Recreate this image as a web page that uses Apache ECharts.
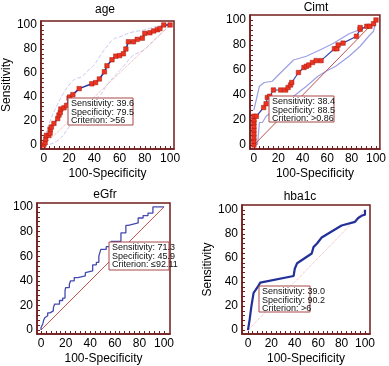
<!DOCTYPE html>
<html><head><meta charset="utf-8">
<script src="https://cdn.jsdelivr.net/npm/echarts@6/dist/echarts.min.js"></script>
<style>html,body{margin:0;padding:0;background:#fff}#c{width:389px;height:366px}</style>
</head><body><div id="c"></div>
<script>
// ---- data ----
const titles = ['age', 'Cimt', 'eGfr', 'hba1c'];
const tickLabels = [0, 20, 40, 60, 80, 100];
const diagonal = [[0, 0], [100, 100]];

const ageRoc = [[0,0],[1,2],[1.5,5],[2,8],[4,8],[5,10],[5,13],[6,15],[8,18],[11,22],[12,25],[13,27],[13.5,30],[16,31],[18,33],[20,39],[20.5,40],[23,42],[28,47],[38,51],[41,52],[44,55],[48,61],[50,66],[54,71],[57,74],[60,74.5],[63,76],[65,80],[67,86],[71,86],[74,88],[78,89],[80,93],[84,93.5],[87,95],[90,96],[92,97],[95,100],[100,100]];
const ageUpper = [[0,4],[5,20],[10,32],[15,42],[20,50],[25,55],[30,57],[35,62],[40,67],[45,75],[50,82],[55,88],[60,90],[70,94],[80,96],[90,99],[100,100]];
const ageLower = [[0,0],[10,3],[20,15],[30,30],[40,38],[45,42],[50,50],[60,62],[65,68],[70,74],[80,80],[90,90],[100,100]];

const cimtRoc = [[0,0],[0,3],[0,6],[0,9],[0,12],[0,15],[0,18],[0,20],[0,23],[2,23],[8,30],[10,33],[11,38],[13,39],[16,44],[22,44],[26,44],[28,46],[30,48],[31,50],[36.5,58],[41,62],[43,63],[45,64],[48,66],[51,67.5],[55,67.5],[66,77],[68,77],[69,80],[73,81.5],[84,87],[87,92.5],[87,94],[92.5,95],[95,95],[98,97],[100,100]];
const cimtUpper = [[0,28],[4.5,47],[8.5,50],[15,51],[19,55],[32.5,68],[43,71],[54,76],[64.5,81],[78,89],[88.5,93],[96.5,96],[100,100]];
const cimtLower = [[0,0],[3,0.5],[4.5,18],[7,18],[10,23],[14,26],[22,31],[32.5,39],[43,47],[52.5,55],[59,59],[67,63],[78,71],[87,79],[94,87],[98,91],[100,100]];

const egfrRoc = [[0,0],[1.4,2],[2,5],[3,7.5],[4,10],[5.4,11.6],[7.3,14],[10,15.6],[11,18],[15,21],[17.6,24],[19.5,26],[20,32],[23,34.5],[24,37],[27,40],[30,42.6],[36,44],[37,46.6],[42,48],[45,53],[47,55],[48.6,60],[53,65.5],[57,67.7],[65,72],[69,79],[71,85],[75,86],[79,87],[83,91],[87,93],[91,95],[96.5,100],[100,100]];

const hbaRoc = [[0,0],[1.4,8.6],[2.8,19],[4.8,31],[6.3,33],[9,37],[10.5,39.5],[39,45],[40,51],[42,55.6],[54.5,63.7],[56,69],[59,72],[63,77],[80,87],[91.5,90],[94,93],[97,95],[100,96],[100,100]];

const boxTexts = [
  ['Sensitivity: 39.6', 'Specificity: 79.5', 'Criterion: >56'],
  ['Sensitivity: 38.4', 'Specificity: 88.5', 'Criterion: >0.86'],
  ['Sensitivity: 71.3', 'Specificity: 45.9', 'Criterion: \u226492.11'],
  ['Sensitivity: 39.0', 'Specificity: 90.2', 'Criterion: >6']
];

// ---- layout ----
const FONT = 'Liberation Sans, Arial, sans-serif';
const FRAME = '#721c1c';
const panels = [
  {grid:{left:39,top:21,width:135,height:128}, x:[-2.3,103.1], y:[-3.3,103.3], yGap:25, title:[105,10], box:[68,98,65,27]},
  {grid:{left:250,top:15,width:133,height:134}, x:[-3.2,103.2], y:[-3.2,104], yGap:0, title:[316,8], box:[269,96,65,26]},
  {grid:{left:37,top:203,width:133,height:132}, x:[-3.3,104.9], y:[-3.2,103.2], yGap:0, title:[105,195], box:[109,242,60,28]},
  {grid:{left:242,top:205,width:128,height:133}, x:[-5.1,104.3], y:[-3.2,104], yGap:19, title:[300,197], box:[259,286,51,26]}
];
const minorTicks = [];
for (let v = 0; v <= 100; v += 4) minorTicks.push(v);

function axis(type, p, i) {
  const isX = type === 'x';
  const r = isX ? p.x : p.y;
  const a = {
    type: 'value', gridIndex: i, min: r[0], max: r[1],
    axisLine: {show: true, onZero: false, lineStyle: {color: FRAME, width: 1.5}},
    axisTick: {show: true, inside: true, length: 3, customValues: minorTicks, lineStyle: {color: FRAME, width: 1}},
    axisLabel: {customValues: tickLabels, color: '#000', fontSize: 12, fontFamily: FONT, margin: 4},
    splitLine: {show: false}
  };
  if (isX) {
    a.name = '100-Specificity'; a.nameLocation = 'middle'; a.nameGap = 19;
    a.nameTextStyle = {fontSize: 12, color: '#000', fontFamily: FONT};
  } else if (p.yGap) {
    a.name = 'Sensitivity'; a.nameLocation = 'middle'; a.nameGap = p.yGap;
    a.nameTextStyle = {fontSize: 12, color: '#000', fontFamily: FONT};
  }
  return a;
}

const grids = [], xAxes = [], yAxes = [], graphics = [];
panels.forEach((p, i) => {
  grids.push(Object.assign({show: true, borderColor: FRAME, borderWidth: 1.5, backgroundColor: '#fff'}, p.grid));
  xAxes.push(axis('x', p, i));
  yAxes.push(axis('y', p, i));
  graphics.push({type: 'text', x: p.title[0], y: p.title[1], z: 10,
    style: {text: titles[i], font: '12px ' + FONT, fill: '#000', textAlign: 'center', textVerticalAlign: 'middle'}});
  const b = p.box;
  graphics.push({type: 'rect', shape: {x: b[0], y: b[1], width: b[2], height: b[3]}, z: 20,
    style: {fill: '#fff', stroke: '#a84848', lineWidth: 1}});
  graphics.push({type: 'text', x: b[0] + 3, y: b[1] + 1.5, z: 21,
    style: {text: boxTexts[i].join('\n'), font: '9px ' + FONT, fill: '#111', lineHeight: 8.6, textVerticalAlign: 'top'}});
});

const series = [
  // age
  {type:'line', xAxisIndex:0, yAxisIndex:0, data: ageUpper, smooth:true, showSymbol:false, lineStyle:{color:'#c6c8f0', width:1, type:'dashed'}},
  {type:'line', xAxisIndex:0, yAxisIndex:0, data: ageLower, smooth:true, showSymbol:false, lineStyle:{color:'#c6c8f0', width:1, type:'dashed'}},
  {type:'line', xAxisIndex:0, yAxisIndex:0, data: diagonal, showSymbol:false, lineStyle:{color:'#f2a8a8', width:1, type:'dotted'}},
  {type:'line', xAxisIndex:0, yAxisIndex:0, data: ageRoc, symbol:'rect', symbolSize:4.5, showSymbol:true,
    lineStyle:{color:'#2235a8', width:1.5}, itemStyle:{color:'#ee3320', borderColor:'#a01c10', borderWidth:0.5}},
  // cimt
  {type:'line', xAxisIndex:1, yAxisIndex:1, data: cimtUpper, showSymbol:false, lineStyle:{color:'#9da0e6', width:1.2}},
  {type:'line', xAxisIndex:1, yAxisIndex:1, data: cimtLower, showSymbol:false, lineStyle:{color:'#9da0e6', width:1.2}},
  {type:'line', xAxisIndex:1, yAxisIndex:1, data: diagonal, showSymbol:false, lineStyle:{color:'#c0504d', width:1}},
  {type:'line', xAxisIndex:1, yAxisIndex:1, data: cimtRoc, symbol:'rect', symbolSize:4.5, showSymbol:true,
    lineStyle:{color:'#3a4ab0', width:1.2}, itemStyle:{color:'#ee3320', borderColor:'#a01c10', borderWidth:0.5}},
  // egfr
  {type:'line', xAxisIndex:2, yAxisIndex:2, data: diagonal, showSymbol:false, lineStyle:{color:'#c0504d', width:1}},
  {type:'line', xAxisIndex:2, yAxisIndex:2, data: egfrRoc, step:'start', showSymbol:false, lineStyle:{color:'#4548b0', width:1.3}},
  // hba1c
  {type:'line', xAxisIndex:3, yAxisIndex:3, data: diagonal, showSymbol:false, lineStyle:{color:'#f2b0b8', width:1, type:'dotted'}},
  {type:'line', xAxisIndex:3, yAxisIndex:3, data: hbaRoc, showSymbol:false, lineStyle:{color:'#22309a', width:2.2}}
];
series.forEach(s => { s.animation = false; s.silent = true; });

const chart = echarts.init(document.getElementById('c'), null, {renderer: 'canvas'});
chart.setOption({
  animation: false,
  grid: grids, xAxis: xAxes, yAxis: yAxes, series: series, graphic: graphics
});
</script>
</body></html>
